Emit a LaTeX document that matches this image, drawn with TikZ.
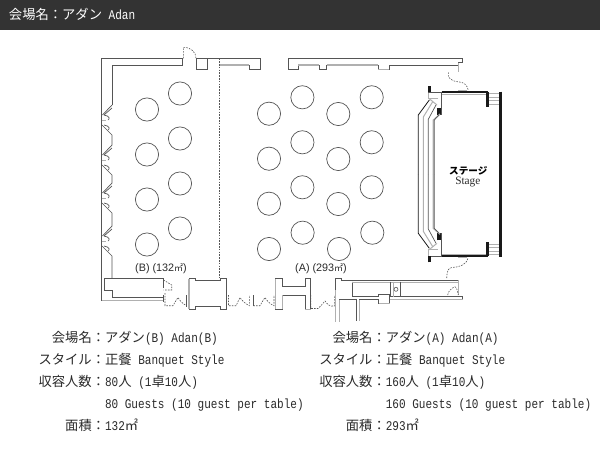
\documentclass[tikz,border=0pt]{standalone}
\usepackage{fontspec}
\setmainfont[FakeStretch=0.83]{Liberation Mono}
\newfontfamily\jpfont{Noto Sans CJK JP}
\newfontfamily\sansf{Liberation Sans}
\newfontfamily\seriff{Liberation Serif}
\newcommand{\jp}[1]{{\jpfont\fontsize{13.3}{14}\selectfont #1}}
\definecolor{wallc}{HTML}{555555}
\definecolor{wallg}{HTML}{B0B0B0}
\definecolor{hdr}{HTML}{333333}
\definecolor{ink}{HTML}{2A2A2A}
\tikzset{
  wall/.style={draw=wallc,line width=0.7pt,line join=miter},
  soft/.style={draw=wallg,line width=1.3pt},
  thinsoft/.style={draw=wallg,line width=1pt},
  doorline/.style={draw=wallc,line width=0.6pt,dash pattern=on 1.6pt off 1.2pt},
  heavy/.style={draw=black!90,line width=2.6pt},
  tbl/.style={draw=wallc,line width=0.7pt},
  txt/.style={inner sep=0pt,outer sep=0pt,text=ink,font=\fontsize{13.3}{14}\selectfont},
  lbl/.style={txt,anchor=base east},
  val/.style={txt,anchor=base west},
  maplbl/.style={inner sep=0pt,text=ink,font=\sansf\fontsize{10.8}{11}\selectfont,anchor=base west},
}
\begin{document}
\begin{tikzpicture}[x=1pt,y=-1pt]
\useasboundingbox (0,0) rectangle (600,450);
\fill[white] (0,0) rectangle (600,450);
\fill[hdr] (0,0) rectangle (600,30);
\node[txt,anchor=base west,text=white] (title) at (9,19.2) {\jp{会場名：アダン} Adan};

% tables
\foreach \x/\y in {147/109.5,147/154.5,147/199.5,147/244.5,180/93.5,180/138.5,180/183.5,180/228.5,
  269/113.7,269/158.7,269/203.7,269/249,302.4/97.3,302.4/142.3,302.4/187.3,302.6/232.7,
  338.3/114,338.3/159,338.3/204,339/249,371.7/97.3,371.7/142.3,371.7/187.3,372.3/232.7}
  \draw[tbl] (\x,\y) circle (11.6);

% top wall, left part
\draw[wall] (183,58.3) -- (101.5,58.3) -- (101.5,300.5);
\draw[wall] (182,58.3) -- (182,65) -- (112,65) -- (112,105);
\draw[wall] (196,58.3) -- (196,69.3) -- (207.7,69.3) -- (207.7,58.3);
\draw[wall] (196,58.3) -- (260.7,58.3) -- (260.7,69.3) -- (249.3,69.3) -- (249.3,65);
\draw[soft] (219.3,65) -- (249.3,65);
\draw[doorline] (183.3,58.3) -- (183.3,47.3) .. controls (191,47.3) and (196,52) .. (196,58.3);
\draw[doorline] (219.3,58.3) -- (219.3,280);

% bays in left wall
\foreach \s/\n in {105/145,145/183,183/226,226/278}{
  \draw[wall] (112,\s) -- (102.5,\s+10);
  \draw[wall] (112,\s+3) -- (104,\s+10);
  \draw[wall] (104,\s+10) .. controls (110,\s+11) and (110,\s+14) .. (108,\s+15);
  \draw[wall] (104,\s+20) .. controls (110,\s+21) and (110,\s+24) .. (108,\s+25);
  \draw[wall] (102,\s+20) -- (112,\s+30) -- (112,\n);
  \draw[thinsoft] (101.5,\s+15) -- (106,\s+15);
}

% bottom left closet
\draw[wall] (163.3,288) -- (163.3,278.7) -- (104.3,278.7) -- (104.3,290.7) -- (112,290.7) -- (112,297.3) -- (163.3,297.3);
\draw[wall] (163.3,295) -- (163.3,301.5);
\draw[soft] (101.5,300.8) -- (163.3,300.8);
\draw[doorline] (163.5,280) -- (171.7,285) -- (171.7,290) -- (163.5,290);

% doors along south wall
\draw[doorline] (165,293) -- (165,305.7) -- (173,305.7) .. controls (175,302) and (177,299) .. (178,297.5) .. controls (180,301) and (183,304) .. (186.7,305.7);
\draw[wall] (186.7,295) -- (186.7,306.7);
\draw[doorline] (228.5,295) -- (228.5,305.7) -- (236,305.7) .. controls (238,302) and (239,299) .. (240,297.5) .. controls (242,301) and (246,304) .. (249.3,305.7) -- (249.3,295);
\draw[wall] (253.3,295) -- (253.3,305.7);
\draw[doorline] (253.3,305.7) -- (260,305.7) .. controls (262,302) and (264,299) .. (265,297.5) .. controls (267,301) and (270,304) .. (274,305.7) -- (274,295);
\draw[doorline] (310.7,295) -- (310.7,308.5) -- (318,308.5) .. controls (321,306) and (323,303) .. (325,301) .. controls (327,304) and (330,307) .. (334.3,306) -- (334.3,295);

% pillar 1
\draw[wall] (189,278.5) -- (195.7,278.5) -- (195.7,280.7) -- (220,280.7) -- (220,278.5) -- (226.7,278.5) -- (226.7,309) -- (220,309) -- (220,306.7) -- (195.7,306.7) -- (195.7,309) -- (189,309) -- cycle;
\draw[soft] (189,279) -- (189,308.5);
% pillar 2 (H)
\draw[wall] (275,278.3) -- (282.7,278.3) -- (282.7,286.7) -- (305,286.7) -- (305,278.3) -- (310.7,278.3) -- (310.7,309.3) -- (305,309.3) -- (305,295) -- (282.7,295) -- (282.7,309.3) -- (275,309.3) -- cycle;
\draw[soft] (282.7,295) -- (282.7,309.3);
\draw[soft] (275.5,279) -- (275.5,309);
\draw[soft] (305,309.3) -- (310.7,309.3);

% south-east wall
\draw[wall] (335,321.5) -- (335,278.3) -- (341.7,278.3) -- (341.7,280) -- (458.3,280);
\draw[soft] (335.5,290) -- (335.5,321.5);
\draw[thinsoft] (458.3,280) -- (458.3,295);
\draw[wall] (352.3,281.7) -- (352.3,296.7) -- (378.7,296.7) -- (378.7,294.7) -- (389.7,294.7) -- (389.7,296.7) -- (462.7,296.7) -- (462.7,299.3);
\draw[wall] (389.7,296.7) -- (389.7,303.3) -- (378.7,303.3) -- (378.7,299.3) -- (359.3,299.3) -- (359.3,320.5);
\draw[soft] (359.5,300) -- (359.5,320.5);
\draw[soft] (379,303.5) -- (389.7,303.5);
\draw[thinsoft] (389.7,299) -- (462.7,299);
\draw[thinsoft] (352.3,282) -- (458.3,282);
\draw[wall] (339,321.5) -- (339,299.3) -- (356,299.3) -- (356,320.5);
\draw[soft] (339.3,300) -- (339.3,321.5);
\draw[wall] (390,281.7) -- (390,296.7);
\draw[thinsoft] (393.3,281.7) -- (393.3,296.7);
\draw[wall] (400,281.7) -- (400,296.7);
\draw[wall,line width=0.6pt] (396,289.3) circle (2);
\draw[doorline] (446.7,278) .. controls (447,271) and (448,268) .. (452,267.5) .. controls (458,267) and (466,266) .. (468,258);
\draw[doorline] (447.7,295) .. controls (448,291) and (452,288) .. (455,286.7) .. controls (457,288) and (458,292) .. (458.3,295);

% top wall, right part
\draw[wall] (288.3,58.3) -- (462.3,58.3) -- (462.3,62.7) -- (458.3,62.7);
\draw[wall] (288.3,58.3) -- (288.3,69.3) -- (298.3,69.3) -- (298.3,65) -- (319.3,65) -- (319.3,69.3) -- (326.7,69.3) -- (326.7,65) -- (378.3,65);
\draw[wall] (378.3,65) -- (378.3,69.3) -- (389.3,69.3) -- (389.3,65) -- (458,65);
\draw[soft] (298.3,65) -- (319.3,65);
\draw[soft] (326.7,65) -- (378.3,65);
\draw[soft] (378.3,69.3) -- (389.3,69.3);
\draw[thinsoft] (458.3,62.7) -- (458.3,72.3);
\draw[doorline] (448.3,72.3) -- (448.3,76.7) .. controls (451,80) and (454,81.5) .. (458,81.8) .. controls (464,82) and (467,85) .. (468.3,90);

% stage (top half and its mirror image)
\foreach \d/\o in {1/0,-1/348.3}{
  \begin{scope}[cm={1,0,0,\d,(0,\o)}]
    \draw[thinsoft] (458,90.7) -- (467,90.7);
    \draw[thinsoft] (441.7,94) -- (487,94);
    \draw[thinsoft] (428.5,92.5) -- (428.5,98.5) -- (438,98.5);
    \draw[draw=wallc,line width=1.2pt] (441.2,92.5) -- (441.2,115);
    \draw[draw=wallc,line width=0.8pt] (428,92.3) -- (441.7,92.3);
    \draw[draw=black!90,line width=2pt] (441.7,92.3) -- (488.3,92.3);
    \draw[heavy] (487.3,92) -- (487.3,106.7);
    \draw[draw=black!90,line width=3pt] (429,86) -- (429,92);
    \draw[draw=black!90,line width=3.4pt] (439,108) -- (439,115);
    \draw[thinsoft] (489,93.5) -- (499,93.5);
    \draw[thinsoft] (489,97) -- (499,97);
    \draw[thinsoft] (489,100.5) -- (499,100.5);
    \draw[thinsoft] (489,104) -- (499,104);
    \draw[draw=black!90,line width=0.8pt] (418.3,174.15) -- (418.3,115) -- (429.3,100);
    \draw[thinsoft] (423.3,174.15) -- (423.3,117) -- (432.7,101.7);
    \draw[wall] (428.3,174.15) -- (428.3,119.3) -- (436,105);
    \draw[draw=wallg,line width=1.2pt] (433.3,174.15) -- (433.3,120) -- (440,114);
    \draw[wall] (434.3,174.15) -- (434.3,120) -- (439,115);
    \draw[thinsoft] (429,98.5) -- (437,105);
  \end{scope}
}
\draw[draw=black!90,line width=3pt] (500.7,91.7) -- (500.7,256.7);

\node[inner sep=0pt,text=black] (stagejp) at (468.3,170.7) {\jpfont\bfseries\fontsize{9.6}{11}\selectfont ステージ};
\node[inner sep=0pt,text=ink] (stageen) at (467.8,181.5) {\seriff\fontsize{11.3}{12}\selectfont Stage};

% map labels
\node[maplbl] (labB) at (135,271.5) {(B) (132{\jpfont\fontsize{9}{10}\selectfont ㎡})};
\node[maplbl] (labA) at (295,271.5) {(A) (293{\jpfont\fontsize{9}{10}\selectfont ㎡})};

% left info
\node[lbl] (b1l) at (91.8,342) {\jp{会場名}};
\node[val] (b1v) at (91.8,342) {\jp{：アダン}(B) Adan(B)};
\node[lbl] (b2l) at (91.8,364) {\jp{スタイル}};
\node[val] (b2v) at (91.8,364) {\jp{：正餐} Banquet Style};
\node[lbl] (b3l) at (91.8,386.2) {\jp{収容人数}};
\node[val] (b3v) at (91.8,386.2) {\jp{：}80\jp{人} (1\jp{卓}10\jp{人})};
\node[val] (b4v) at (105,408) {80 Guests (10 guest per table)};
\node[lbl] (b5l) at (91.8,430.2) {\jp{面積}};
\node[val] (b5v) at (91.8,430.2) {\jp{：}132\jp{㎡}};
% right info
\node[lbl] (a1l) at (372.5,342) {\jp{会場名}};
\node[val] (a1v) at (372.5,342) {\jp{：アダン}(A) Adan(A)};
\node[lbl] (a2l) at (372.5,364) {\jp{スタイル}};
\node[val] (a2v) at (372.5,364) {\jp{：正餐} Banquet Style};
\node[lbl] (a3l) at (372.5,386.2) {\jp{収容人数}};
\node[val] (a3v) at (372.5,386.2) {\jp{：}160\jp{人} (1\jp{卓}10\jp{人})};
\node[val] (a4v) at (385.8,408) {160 Guests (10 guest per table)};
\node[lbl] (a5l) at (372.5,430.2) {\jp{面積}};
\node[val] (a5v) at (372.5,430.2) {\jp{：}293\jp{㎡}};
\end{tikzpicture}
\end{document}
